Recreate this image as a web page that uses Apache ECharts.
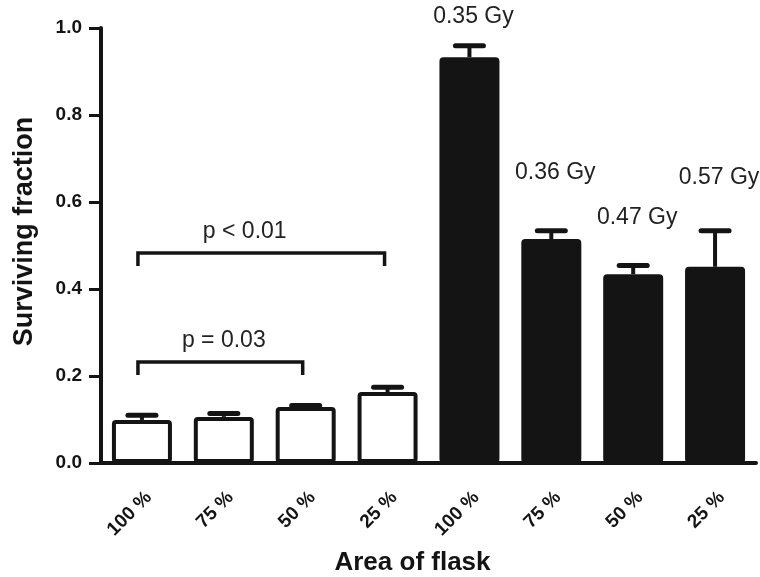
<!DOCTYPE html>
<html>
<head>
<meta charset="utf-8">
<script src="https://cdn.jsdelivr.net/npm/echarts@6/dist/echarts.min.js"></script>
<style>
  html, body { margin: 0; padding: 0; background: #fff; }
  #main { width: 760px; height: 577px; }
</style>
</head>
<body>
<div id="main"></div>
<script>
// flask area, control group first, then irradiated group
const areaLabels = ['100 %', '75 %', '50 %', '25 %', '100 %', '75 %', '50 %', '25 %'];
const survival = [0.099, 0.106, 0.129, 0.163, 0.933, 0.515, 0.434, 0.451];
const errorTop = [0.110, 0.114, 0.132, 0.174, 0.959, 0.534, 0.454, 0.534];
const irradiated = [false, false, false, false, true, true, true, true];

// dose annotations above the irradiated bars
const doseLabels = ['', '', '', '', '0.35 Gy', '0.36 Gy', '0.47 Gy', '0.57 Gy'];
const doseLabelHeight = [0, 0, 0, 0, 1.025, 0.667, 0.563, 0.655];

// significance brackets
const bracketFrom = [0, 0];
const bracketTo = [3, 2];
const bracketHeight = [0.483, 0.232];
const bracketText = ['p < 0.01', 'p = 0.03'];
const bracketTextNudge = [-20, 0]; // px, the wide bracket's label sits left of centre

const INK = '#141414';
const FONT = '"Liberation Sans", Arial, Helvetica, sans-serif';

const chart = echarts.init(document.getElementById('main'));

const barData = survival.map((v, i) => ({
  value: v,
  itemStyle: { color: irradiated[i] ? INK : '#fff' },
}));

const errData = survival.map((v, i) => [i, v, errorTop[i], doseLabelHeight[i]]);
const bracketData = bracketFrom.map((f, i) => [f, bracketTo[i], bracketHeight[i]]);

chart.setOption({
  animation: false,
  backgroundColor: '#fff',
  textStyle: { fontFamily: FONT },
  grid: { left: 101, right: 4, top: 28, bottom: 114, containLabel: false, outerBoundsMode: 'none' },
  xAxis: {
    type: 'category',
    data: areaLabels,
    name: 'Area of flask',
    nameLocation: 'middle',
    nameGap: 87,
    nameTextStyle: {
      fontSize: 26, fontWeight: 'bold', color: INK, fontFamily: FONT,
      padding: [0, 32, 0, 0],
    },
    axisLine: { lineStyle: { color: INK, width: 4 } },
    axisTick: { alignWithLabel: true, length: 12, lineStyle: { color: INK, width: 3 } },
    axisLabel: {
      rotate: 45, margin: 25, fontSize: 19, fontWeight: 'bold', color: INK,
      fontFamily: FONT, interval: 0, verticalAlign: 'top',
    },
  },
  yAxis: {
    type: 'value',
    min: 0,
    max: 1,
    interval: 0.2,
    name: 'Surviving fraction',
    nameLocation: 'middle',
    nameRotate: 90,
    nameGap: 63,
    nameTextStyle: {
      fontSize: 27, fontWeight: 'bold', color: INK, fontFamily: FONT,
      padding: [0, 0, 0, 28],
    },
    splitLine: { show: false },
    axisLine: { show: true, lineStyle: { color: INK, width: 4 } },
    axisTick: { show: true, length: 12, lineStyle: { color: INK, width: 3 } },
    axisLabel: {
      margin: 19, fontSize: 19, fontWeight: 'bold', color: INK, fontFamily: FONT,
      formatter: (v) => v.toFixed(1),
    },
  },
  series: [
    {
      type: 'bar',
      data: barData,
      barWidth: 60,
      itemStyle: { borderColor: INK, borderWidth: 4, borderRadius: 2 },
      z: 2,
    },
    {
      type: 'custom',
      data: errData,
      z: 3,
      renderItem: (params, api) => {
        const i = api.value(0);
        const base = api.coord([i, api.value(1)]);
        const top = api.coord([i, api.value(2)]);
        const children = [
          {
            type: 'line',
            shape: { x1: base[0], y1: base[1], x2: top[0], y2: top[1] },
            style: { stroke: INK, lineWidth: 4 },
          },
          {
            type: 'line',
            shape: { x1: top[0] - 14, y1: top[1], x2: top[0] + 14, y2: top[1] },
            style: { stroke: INK, lineWidth: 5, lineCap: 'round' },
          },
        ];
        if (doseLabels[i]) {
          const at = api.coord([i, api.value(3)]);
          children.push({
            type: 'text',
            x: at[0] + 4,
            y: at[1],
            style: {
              text: doseLabels[i], fontSize: 23, fontFamily: FONT, fill: '#222',
              align: 'center', verticalAlign: 'middle',
            },
          });
        }
        return { type: 'group', children };
      },
    },
    {
      type: 'custom',
      data: bracketData,
      z: 3,
      renderItem: (params, api) => {
        const a = api.coord([api.value(0), api.value(2)]);
        const b = api.coord([api.value(1), api.value(2)]);
        const tip = 13;
        return {
          type: 'group',
          children: [
            {
              type: 'polyline',
              shape: { points: [[a[0] - 4, a[1] + tip], [a[0] - 4, a[1]], [b[0] - 3, b[1]], [b[0] - 3, b[1] + tip]] },
              style: { stroke: INK, lineWidth: 3.5, fill: null },
            },
            {
              type: 'text',
              x: (a[0] + b[0]) / 2 + bracketTextNudge[params.dataIndex],
              y: a[1] - 21,
              style: {
                text: bracketText[params.dataIndex], fontSize: 23, fontFamily: FONT, fill: '#222',
                align: 'center', verticalAlign: 'middle',
              },
            },
          ],
        };
      },
    },
  ],
});
</script>
</body>
</html>
